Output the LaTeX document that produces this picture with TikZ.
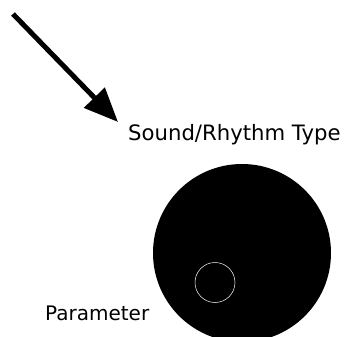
\documentclass[tikz,border=0pt]{standalone}
\usepackage{fontspec}
\setmainfont{DejaVu Sans}
\usetikzlibrary{arrows.meta, positioning}

\begin{document}
\begin{tikzpicture}[
  x=1pt, y=-1pt,
  label/.style = {inner sep=0pt, anchor=base west, font=\fontsize{20}{24}\selectfont},
  knob/.style = {circle, fill=black, inner sep=0pt, minimum size=178pt},
  ring/.style = {circle, draw=white, line width=0.5pt, inner sep=0pt, minimum size=40pt},
  pointer/.style = {line width=5pt, -{Triangle[length=34pt, width=28pt]}}
]
\useasboundingbox (0, 0) rectangle (348, 337);
\clip (0, 0) rectangle (348, 337);

\node[label, font=\fontsize{21.2}{25}\selectfont] (type) at (128, 140) {Sound/Rhythm Type};
\node[label] (param) at (45, 320) {Parameter};

\node[knob] (dial) at (242, 253) {};
\node[ring] (dot) at (215, 282.5) {};

% Pointer arrow
\coordinate (tail) at (13, 14);
\coordinate (tip) at (118, 122);
\draw[pointer] (tail) -- (tip);
\end{tikzpicture}
\end{document}
